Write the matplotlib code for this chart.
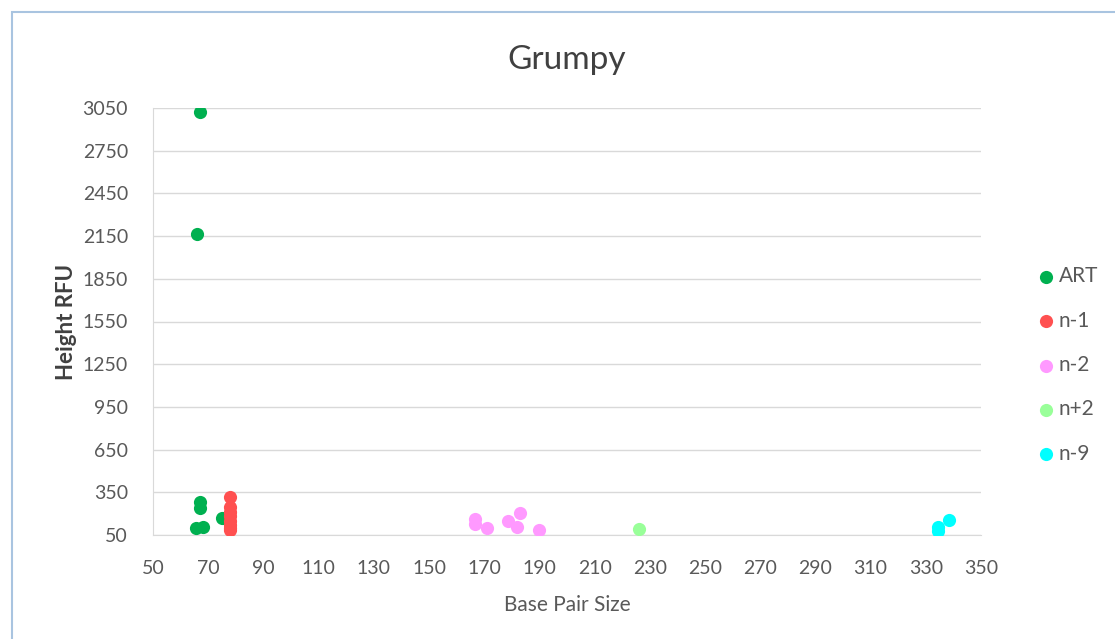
import matplotlib.pyplot as plt
from matplotlib.patches import Rectangle

plt.rcParams['font.family'] = ['Lato', 'DejaVu Sans']

# data
art_x = [67, 66, 67, 67, 65.6, 68, 75]
art_y = [3020, 2165, 282, 240, 99, 106, 169]
n1_x = [78, 78, 78, 78, 78, 78, 78, 78]
n1_y = [320, 250, 215, 180, 150, 120, 100, 88]
n2_x = [166.7, 166.7, 171, 178.6, 182, 183, 190]
n2_y = [162, 127, 99, 148, 106, 205, 85]
np2_x = [226]
np2_y = [92]
n9_x = [334.4, 334.6, 338.4]
n9_y = [106, 75, 155]

series = [
    ('ART', art_x, art_y, '#00B050'),
    ('n-1', n1_x, n1_y, '#FF5050'),
    ('n-2', n2_x, n2_y, '#FF99FF'),
    ('n+2', np2_x, np2_y, '#99FF99'),
    ('n-9', n9_x, n9_y, '#00FFFF'),
]

fig = plt.figure(figsize=(11.15, 6.39), dpi=100)
ax = fig.add_axes([153 / 1115, 1 - 535 / 639, (981 - 153) / 1115, (535 - 108) / 639])

for name, xs, ys, col in series:
    ax.scatter(xs, ys, s=90, color=col, label=name, zorder=3, linewidths=0)

ax.set_xlim(50, 350)
ax.set_ylim(50, 3050)
ax.set_xticks(range(50, 351, 20))
ax.set_yticks(range(50, 3051, 300))
ax.grid(axis='y', color='#D9D9D9', linewidth=1)
ax.set_axisbelow(True)
for s in ['top', 'right']:
    ax.spines[s].set_visible(False)
ax.spines['left'].set_color('#D9D9D9')
ax.spines['bottom'].set_color('#D9D9D9')
ax.tick_params(length=0, labelsize=14, colors='#595959')
ax.tick_params(axis='y', pad=18)
ax.tick_params(axis='x', pad=18)

ax.set_title('Grumpy', fontsize=24, color='#404040', pad=28)
ax.set_xlabel('Base Pair Size', fontsize=15, color='#595959', labelpad=13)
ax.set_ylabel('Height RFU', fontsize=16, color='#404040', fontweight='bold', labelpad=4)

leg = fig.legend(loc='center left', bbox_to_anchor=(1036 / 1115, 1 - 365 / 639),
                 frameon=False, fontsize=15, labelspacing=1.17, handletextpad=0.1,
                 handlelength=1.0, borderaxespad=0, borderpad=0)
for t in leg.get_texts():
    t.set_color('#595959')

fig.patches.append(Rectangle((12 / 1115, -0.1), 1.2, 1 - 12 / 639 + 0.1,
                             transform=fig.transFigure, fill=False,
                             edgecolor='#A9C4E0', linewidth=1.5))

fig.savefig('out.png', dpi=100)
